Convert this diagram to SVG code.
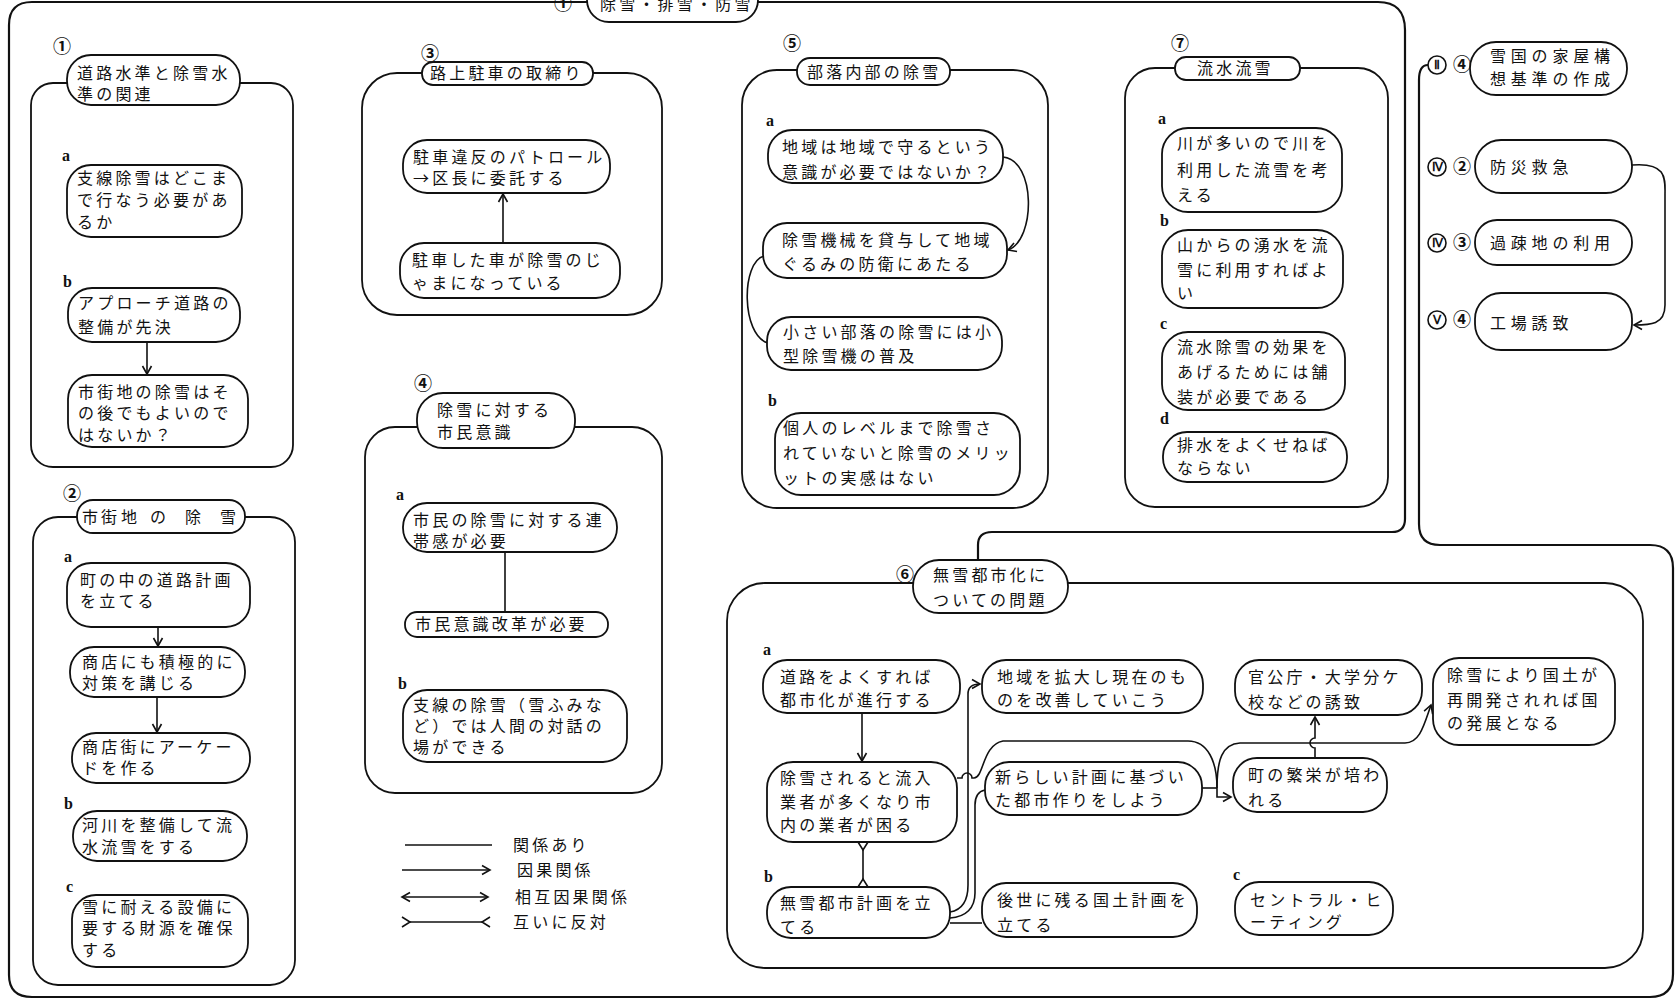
<svg xmlns="http://www.w3.org/2000/svg" width="1680" height="1003" viewBox="0 0 1680 1003">
<defs>
<style>
.n{fill:#fff;stroke:#111;stroke-width:1.8}
.c{fill:none;stroke:#111;stroke-width:1.8}
.f{fill:none;stroke:#111;stroke-width:2.2}
.e{fill:none;stroke:#111;stroke-width:1.6}
.t{font-family:"Noto Sans CJK JP","Noto Sans CJK SC",sans-serif;font-size:16px;letter-spacing:3.2px;fill:#111}
.r{letter-spacing:4.8px}
.l{font-family:"Liberation Serif",serif;font-weight:bold;font-size:16px;fill:#111}
.num{font-family:"Noto Sans CJK JP","Noto Sans CJK SC",sans-serif;font-size:18px;font-weight:bold;fill:#111;text-anchor:middle}
.rn{font-family:"Liberation Serif",serif;font-size:12px;font-weight:bold;fill:#111;text-anchor:middle}
.rc{fill:#fff;stroke:#111;stroke-width:1.6}
</style>
<marker id="arr" viewBox="-10 -6 12 12" refX="0" refY="0" markerWidth="12" markerHeight="12" markerUnits="userSpaceOnUse" orient="auto-start-reverse"><path d="M-8,-4.5 L0,0 L-8,4.5" fill="none" stroke="#111" stroke-width="1.6"/></marker>
<marker id="opp" viewBox="-2 -6 12 12" refX="0" refY="0" markerWidth="12" markerHeight="12" markerUnits="userSpaceOnUse" orient="auto-start-reverse"><path d="M8,-5 L0,0 L8,5" fill="none" stroke="#111" stroke-width="1.6"/></marker>
</defs>
<rect width="1680" height="1003" fill="#fff"/>

<!-- outer frames and group containers -->
<g id="frames">
<path class="f" d="M587,2 L32,2 Q9,2 9,25 L9,975 Q9,997 32,997 L1650,997 Q1673,997 1673,974 L1673,568 Q1673,545 1650,545 L1440,545 Q1419,545 1419,524 L1419,80 Q1419,65 1428,65"/>
<path class="f" d="M758,2 L1378,2 Q1405,2 1405,30 L1405,519 Q1405,532 1392,532 L992,532 Q978,532 978,545 L978,560"/>
<rect class="c" x="31" y="83" width="262" height="384" rx="22"/>
<rect class="c" x="33" y="517" width="262" height="468" rx="25"/>
<rect class="c" x="362" y="73" width="300" height="242" rx="35"/>
<rect class="c" x="365" y="427" width="297" height="366" rx="30"/>
<rect class="c" x="742" y="70" width="306" height="438" rx="35"/>
<rect class="c" x="1125" y="68" width="263" height="439" rx="30"/>
<rect class="c" x="727" y="583" width="916" height="385" rx="38"/>
</g>

<!-- connectors -->
<g id="connectors">
<path class="e" d="M147,342 L147,374" marker-end="url(#arr)"/>
<path class="e" d="M158,627 L158,646" marker-end="url(#arr)"/>
<path class="e" d="M157,697 L157,732" marker-end="url(#arr)"/>
<path class="e" d="M503,243 L503,194" marker-end="url(#arr)"/>
<path class="e" d="M505,552 L505,612"/>
<path class="e" d="M1003,157 C1036,160 1036,240 1008,250" marker-end="url(#arr)"/>
<path class="e" d="M764,256 C741,262 741,335 768,343"/>
<path class="e" d="M1632,165 C1668,162 1665,180 1665,195 L1665,305 C1665,325 1650,325 1634,325" marker-end="url(#arr)"/>
<path class="e" d="M862,713 L862,761" marker-end="url(#arr)"/>
<path class="e" d="M863,850 L863,879" marker-start="url(#opp)" marker-end="url(#opp)"/>
<path class="e" d="M950,923 L982,923"/>
<path class="e" d="M950,912 C962,910 968,900 968,885 L968,694 Q968,684 980,684" marker-end="url(#arr)"/>
<path class="e" d="M950,918 C966,917 975,908 975,893 L975,805 Q975,792 985,790"/>
<path class="e" d="M957,778 L962,778 A5,5 0 0 1 972,778 L974,778 C984,778 982,745 1003,741 L1188,741 C1208,741 1217,762 1217,788 L1217,797 L1231,797" marker-end="url(#arr)"/>
<path class="e" d="M1202,788 L1217,788"/>
<path class="e" d="M1217,788 C1217,760 1222,744 1240,743 L1405,743 C1420,743 1424,725 1431,705" marker-end="url(#arr)"/>
<path class="e" d="M1315,758 L1315,748 A5,5 0 0 1 1315,738 L1315,717" marker-end="url(#arr)"/>
</g>

<!-- top title -->
<g id="title0">
<text class="num" x="563" y="10">①</text>
<rect class="n" x="587" y="-25" width="171" height="47" rx="22"/>
<text class="t" x="600" y="10">除雪・排雪・防雪</text>
</g>

<!-- box 1 -->
<g id="box1">
<text class="num" x="62" y="53">①</text>
<rect class="n" x="67" y="55" width="173" height="50" rx="24"/>
<text class="t" x="77" y="79">道路水準と除雪水</text>
<text class="t" x="77" y="100">準の関連</text>
<text class="l" x="62" y="161">a</text>
<text class="l" x="63" y="287">b</text>
</g>
<g id="n1a"><rect class="n" x="67" y="165" width="175" height="72" rx="24"/>
<text class="t" x="77" y="184">支線除雪はどこま</text><text class="t" x="77" y="206">で行なう必要があ</text><text class="t" x="77" y="228">るか</text></g>
<g id="n1b1"><rect class="n" x="68" y="288" width="172" height="54" rx="24"/>
<text class="t" x="78" y="309">アプローチ道路の</text><text class="t" x="78" y="333">整備が先決</text></g>
<g id="n1b2"><rect class="n" x="68" y="375" width="180" height="72" rx="24"/>
<text class="t" x="78" y="398">市街地の除雪はそ</text><text class="t" x="78" y="419">の後でもよいので</text><text class="t" x="78" y="441">はないか？</text></g>

<!-- box 2 -->
<g id="box2">
<text class="num" x="72" y="500">②</text>
<rect class="n" x="77" y="500" width="168" height="33" rx="16"/>
<text class="t" x="82 101 121 150 185 220" y="523">市街地の除雪</text>
<text class="l" x="64" y="562">a</text>
<text class="l" x="64" y="809">b</text>
<text class="l" x="66" y="892">c</text>
</g>
<g id="n2a1"><rect class="n" x="67" y="563" width="183" height="64" rx="24"/>
<text class="t" x="80" y="586">町の中の道路計画</text><text class="t" x="80" y="607">を立てる</text></g>
<g id="n2a2"><rect class="n" x="70" y="647" width="175" height="50" rx="24"/>
<text class="t" x="82" y="668">商店にも積極的に</text><text class="t" x="82" y="689">対策を講じる</text></g>
<g id="n2a3"><rect class="n" x="72" y="733" width="178" height="50" rx="24"/>
<text class="t" x="82" y="753">商店街にアーケー</text><text class="t" x="82" y="774">ドを作る</text></g>
<g id="n2b"><rect class="n" x="73" y="811" width="174" height="50" rx="24"/>
<text class="t" x="82" y="831">河川を整備して流</text><text class="t" x="82" y="853">水流雪をする</text></g>
<g id="n2c"><rect class="n" x="72" y="895" width="176" height="72" rx="24"/>
<text class="t" x="82" y="913">雪に耐える設備に</text><text class="t" x="82" y="934">要する財源を確保</text><text class="t" x="82" y="956">する</text></g>

<!-- box 3 -->
<g id="box3">
<text class="num" x="430" y="60">③</text>
<rect class="n" x="422" y="62" width="171" height="23" rx="11"/>
<text class="t" x="430" y="79">路上駐車の取締り</text>
</g>
<g id="n3a"><rect class="n" x="403" y="140" width="207" height="53" rx="24"/>
<text class="t" x="413" y="163">駐車違反のパトロール</text><text class="t" x="413" y="184">→区長に委託する</text></g>
<g id="n3b"><rect class="n" x="400" y="243" width="220" height="55" rx="24"/>
<text class="t" x="412" y="266">駐車した車が除雪のじ</text><text class="t" x="412" y="289">ゃまになっている</text></g>

<!-- box 4 -->
<g id="box4">
<text class="num" x="423" y="390">④</text>
<rect class="n" x="417" y="393" width="158" height="55" rx="26"/>
<text class="t" x="437" y="416">除雪に対する</text>
<text class="t" x="437" y="438">市民意識</text>
<text class="l" x="396" y="500">a</text>
<text class="l" x="398" y="689">b</text>
</g>
<g id="n4a1"><rect class="n" x="403" y="503" width="214" height="49" rx="24"/>
<text class="t" x="413" y="526">市民の除雪に対する連</text><text class="t" x="413" y="547">帯感が必要</text></g>
<g id="n4a2"><rect class="n" x="405" y="612" width="203" height="25" rx="12"/>
<text class="t" x="415" y="630">市民意識改革が必要</text></g>
<g id="n4b"><rect class="n" x="403" y="690" width="224" height="72" rx="24"/>
<text class="t" x="413" y="711">支線の除雪（雪ふみな</text><text class="t" x="413" y="732">ど）では人間の対話の</text><text class="t" x="413" y="753">場ができる</text></g>

<!-- legend -->
<g id="legend">
<path class="e" d="M405,845 L492,845"/>
<path class="e" d="M402,870 L490,870" marker-end="url(#arr)"/>
<path class="e" d="M402,897 L488,897" marker-start="url(#arr)" marker-end="url(#arr)"/>
<path class="e" d="M410,922 L482,922" marker-start="url(#opp)" marker-end="url(#opp)"/>
<text class="t" x="513" y="851">関係あり</text>
<text class="t" x="517" y="876">因果関係</text>
<text class="t" x="515" y="903">相互因果関係</text>
<text class="t" x="513" y="928">互いに反対</text>
</g>

<!-- box 5 -->
<g id="box5">
<text class="num" x="792" y="50">⑤</text>
<rect class="n" x="797" y="58" width="153" height="27" rx="13"/>
<text class="t" x="807" y="78">部落内部の除雪</text>
<text class="l" x="766" y="126">a</text>
<text class="l" x="768" y="406">b</text>
</g>
<g id="n5a1"><rect class="n" x="768" y="130" width="235" height="53" rx="24"/>
<text class="t" x="782" y="153">地域は地域で守るという</text><text class="t" x="782" y="178">意識が必要ではないか？</text></g>
<g id="n5a2"><rect class="n" x="763" y="223" width="244" height="55" rx="24"/>
<text class="t" x="782" y="246">除雪機械を貸与して地域</text><text class="t" x="782" y="270">ぐるみの防衛にあたる</text></g>
<g id="n5a3"><rect class="n" x="767" y="317" width="235" height="53" rx="24"/>
<text class="t" x="783" y="338">小さい部落の除雪には小</text><text class="t" x="783" y="362">型除雪機の普及</text></g>
<g id="n5b"><rect class="n" x="775" y="413" width="245" height="82" rx="26"/>
<text class="t" x="783" y="434">個人のレベルまで除雪さ</text><text class="t" x="783" y="459">れていないと除雪のメリッ</text><text class="t" x="783" y="484">ットの実感はない</text></g>

<!-- box 7 -->
<g id="box7">
<text class="num" x="1180" y="50">⑦</text>
<rect class="n" x="1175" y="57" width="125" height="23" rx="11"/>
<text class="t" x="1197" y="74">流水流雪</text>
<text class="l" x="1158" y="124">a</text>
<text class="l" x="1160" y="226">b</text>
<text class="l" x="1160" y="329">c</text>
<text class="l" x="1160" y="424">d</text>
</g>
<g id="n7a"><rect class="n" x="1162" y="128" width="180" height="84" rx="26"/>
<text class="t" x="1177" y="149">川が多いので川を</text><text class="t" x="1177" y="176">利用した流雪を考</text><text class="t" x="1177" y="201">える</text></g>
<g id="n7b"><rect class="n" x="1162" y="230" width="181" height="78" rx="26"/>
<text class="t" x="1177" y="251">山からの湧水を流</text><text class="t" x="1177" y="276">雪に利用すればよ</text><text class="t" x="1177" y="299">い</text></g>
<g id="n7c"><rect class="n" x="1162" y="332" width="183" height="78" rx="26"/>
<text class="t" x="1177" y="353">流水除雪の効果を</text><text class="t" x="1177" y="378">あげるためには舗</text><text class="t" x="1177" y="403">装が必要である</text></g>
<g id="n7d"><rect class="n" x="1163" y="432" width="184" height="50" rx="24"/>
<text class="t" x="1177" y="451">排水をよくせねば</text><text class="t" x="1177" y="474">ならない</text></g>

<!-- right column -->
<g id="r1"><circle class="rc" cx="1437" cy="65" r="9"/><text class="rn" x="1437" y="69">Ⅱ</text><text class="num" x="1462" y="71">④</text>
<rect class="n" x="1470" y="42" width="157" height="53" rx="26"/>
<text class="t r" x="1490" y="62">雪国の家屋構</text><text class="t r" x="1490" y="85">想基準の作成</text></g>
<g id="r2"><circle class="rc" cx="1437" cy="167" r="9"/><text class="rn" x="1437" y="171">Ⅳ</text><text class="num" x="1462" y="173">②</text>
<rect class="n" x="1475" y="140" width="157" height="53" rx="26"/>
<text class="t r" x="1490" y="173">防災救急</text></g>
<g id="r3"><circle class="rc" cx="1437" cy="243" r="9"/><text class="rn" x="1437" y="247">Ⅳ</text><text class="num" x="1462" y="249">③</text>
<rect class="n" x="1475" y="220" width="157" height="45" rx="22"/>
<text class="t r" x="1490" y="249">過疎地の利用</text></g>
<g id="r4"><circle class="rc" cx="1437" cy="320" r="9"/><text class="rn" x="1437" y="324">Ⅴ</text><text class="num" x="1462" y="326">④</text>
<rect class="n" x="1475" y="293" width="157" height="57" rx="26"/>
<text class="t r" x="1490" y="329">工場誘致</text></g>

<!-- box 6 -->
<g id="box6">
<text class="num" x="905" y="581">⑥</text>
<rect class="n" x="913" y="560" width="155" height="53" rx="26"/>
<text class="t" x="933" y="581">無雪都市化に</text>
<text class="t" x="933" y="606">ついての問題</text>
<text class="l" x="763" y="655">a</text>
<text class="l" x="764" y="882">b</text>
<text class="l" x="1233" y="880">c</text>
</g>
<g id="n6a1"><rect class="n" x="763" y="660" width="197" height="53" rx="24"/>
<text class="t" x="780" y="683">道路をよくすれば</text><text class="t" x="780" y="706">都市化が進行する</text></g>
<g id="n6a2"><rect class="n" x="767" y="762" width="190" height="80" rx="26"/>
<text class="t" x="780" y="784">除雪されると流入</text><text class="t" x="780" y="808">業者が多くなり市</text><text class="t" x="780" y="831">内の業者が困る</text></g>
<g id="n6b"><rect class="n" x="767" y="887" width="183" height="51" rx="24"/>
<text class="t" x="780" y="909">無雪都市計画を立</text><text class="t" x="780" y="933">てる</text></g>
<g id="n6r1"><rect class="n" x="982" y="660" width="221" height="53" rx="24"/>
<text class="t" x="997" y="683">地域を拡大し現在のも</text><text class="t" x="997" y="706">のを改善していこう</text></g>
<g id="n6r2"><rect class="n" x="985" y="762" width="217" height="53" rx="24"/>
<text class="t" x="995" y="783">新らしい計画に基づい</text><text class="t" x="995" y="806">た都市作りをしよう</text></g>
<g id="n6r3"><rect class="n" x="982" y="883" width="215" height="54" rx="24"/>
<text class="t" x="997" y="906">後世に残る国土計画を</text><text class="t" x="997" y="931">立てる</text></g>
<g id="n6town"><rect class="n" x="1233" y="758" width="154" height="54" rx="24"/>
<text class="t" x="1248" y="781">町の繁栄が培わ</text><text class="t" x="1248" y="806">れる</text></g>
<g id="n6gov"><rect class="n" x="1235" y="660" width="187" height="55" rx="24"/>
<text class="t" x="1248" y="683">官公庁・大学分ケ</text><text class="t" x="1248" y="708">校などの誘致</text></g>
<g id="n6dev"><rect class="n" x="1433" y="658" width="182" height="87" rx="26"/>
<text class="t" x="1447" y="681">除雪により国土が</text><text class="t" x="1447" y="706">再開発されれば国</text><text class="t" x="1447" y="729">の発展となる</text></g>
<g id="n6c"><rect class="n" x="1235" y="882" width="158" height="53" rx="24"/>
<text class="t" x="1250" y="906">セントラル・ヒ</text><text class="t" x="1250" y="928">ーティング</text></g>
</svg>
